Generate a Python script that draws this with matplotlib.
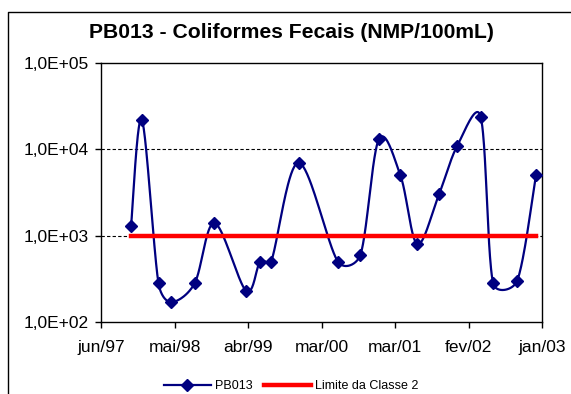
import matplotlib
matplotlib.use('Agg')
import matplotlib.pyplot as plt
import matplotlib.dates as mdates
import numpy as np
from matplotlib.lines import Line2D

plt.rcParams['font.family'] = ['Liberation Sans', 'DejaVu Sans']

# dados
datas = ['1997-10-27', '1997-12-16', '1998-03-03', '1998-05-01', '1998-08-17',
         '1998-11-17', '1999-04-12', '1999-06-16', '1999-08-06', '1999-12-11',
         '2000-06-10', '2000-09-22', '2000-12-16', '2001-03-26', '2001-06-12',
         '2001-09-20', '2001-12-14', '2002-04-01', '2002-05-29', '2002-09-17',
         '2002-12-13']
pb013 = [1300, 22000, 280, 170, 280, 1400, 230, 500, 500, 7000,
         500, 600, 13000, 5000, 800, 3000, 11000, 24000, 280, 300, 5000]
limite = [1000] * len(datas)
rotulos_x = ['jun/97', 'mai/98', 'abr/99', 'mar/00', 'mar/01', 'fev/02', 'jan/03']
rotulos_y = ['1,0E+02', '1,0E+03', '1,0E+04', '1,0E+05']

x_ini = mdates.datestr2num('1997-06-10')
x_fim = mdates.datestr2num('2003-01-10')


def suavizar(x, y, larg, alt, n=40, alfa=0.45):
    # curva suavizada estilo Excel (bezier, tangente limitada pelo segmento)
    u = (np.asarray(x) - x_ini) / (x_fim - x_ini) * larg
    v = (np.log10(y) - 2) / 3 * alt
    p = np.column_stack([u, v])
    t = np.linspace(0, 1, n)[:, None]

    def limitar(d, seg):
        L = np.hypot(*d)
        lim = alfa * seg
        return d * (lim / L) if L > lim else d

    seg = []
    for i in range(len(p) - 1):
        p0 = p[i - 1] if i > 0 else p[i]
        p1, p2 = p[i], p[i + 1]
        p3 = p[i + 2] if i + 2 < len(p) else p[i + 1]
        comp = np.hypot(*(p2 - p1))
        c1 = p1 + limitar((p2 - p0) / 6, comp)
        c2 = p2 - limitar((p3 - p1) / 6, comp)
        b = ((1 - t) ** 3) * p1 + 3 * ((1 - t) ** 2) * t * c1 + 3 * (1 - t) * t ** 2 * c2 + t ** 3 * p2
        seg.append(b if i == 0 else b[1:])
    c = np.vstack(seg)
    xs = c[:, 0] / larg * (x_fim - x_ini) + x_ini
    ys = 10 ** (c[:, 1] / alt * 3 + 2)
    return xs, ys


W, H = 571, 394
fig = plt.figure(figsize=(W / 100, H / 100), dpi=100)
ax = fig.add_axes([101 / W, 1 - 322 / H, 441 / W, 259 / H])

x = mdates.datestr2num(datas)
xs, ys = suavizar(x, pb013, 441, 259)
azul = '#000080'
ax.plot(xs, ys, color=azul, lw=1.6, zorder=3)
ax.plot(x, pb013, ls='none', marker='D', ms=6.5, color=azul, zorder=4)
ax.plot([x[0], x[-1]], [limite[0], limite[-1]], color='#ff0000', lw=3.2, zorder=5)

ax.set_yscale('log')
ax.set_ylim(100, 100000)
ax.set_xlim(x_ini, x_fim)
ax.set_yticks([100, 1000, 10000, 100000])
ax.set_yticklabels(rotulos_y)
ax.yaxis.set_minor_locator(matplotlib.ticker.NullLocator())
ax.set_xticks(np.linspace(x_ini, x_fim, len(rotulos_x)))
ax.set_xticklabels(rotulos_x)
ax.tick_params(axis='both', direction='out', length=4, width=1, labelsize=12.5)
ax.tick_params(axis='y', pad=5)
ax.tick_params(axis='x', pad=9)
for s in ax.spines.values():
    s.set_color('black')
    s.set_linewidth(1)
for g in [1000, 10000]:
    ax.axhline(g, color='black', lw=0.8, ls=(0, (3, 2)), zorder=1)

fig.text(291 / W, 1 - 33 / H, 'PB013 - Coliformes Fecais (NMP/100mL)',
         ha='center', va='center', fontsize=15.2, fontweight='bold')

# borda externa do grafico
fig.add_artist(Line2D([8 / W, 8 / W, 1.0], [0, 1 - 12 / H, 1 - 12 / H],
                      transform=fig.transFigure, color='black', lw=1))

h1 = Line2D([], [], color=azul, lw=1.6, marker='D', ms=6.5)
h2 = Line2D([], [], color='#ff0000', lw=3.2)
fig.legend([h1, h2], ['PB013', 'Limite da Classe 2'], loc='center',
           bbox_to_anchor=(291 / W, 1 - 386 / H), ncol=2, frameon=False,
           fontsize=9, handlelength=3.8, handletextpad=0.3, columnspacing=0.9)

fig.savefig('out.png', dpi=100)
